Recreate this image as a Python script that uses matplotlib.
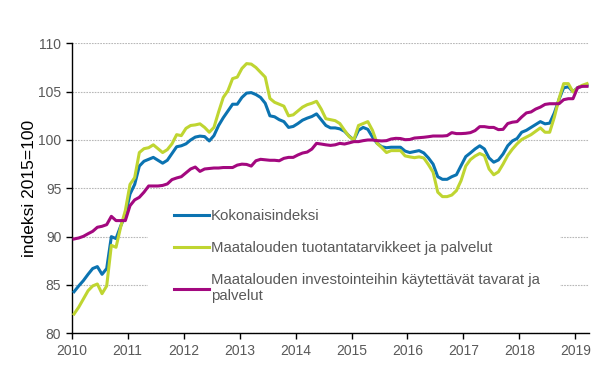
import matplotlib.pyplot as plt
import numpy as np
from matplotlib.patches import Rectangle

# monthly index values, Jan 2010 - Mar 2019 (2015=100)
kokonais = [
    84.3, 84.9, 85.45, 86.1, 86.7, 86.9, 86.1, 86.7, 90.0, 89.8, 91.1, 92.2,
    94.4, 95.4, 97.3, 97.8, 98.0, 98.2, 97.9, 97.6, 97.9, 98.6, 99.3, 99.4,
    99.6, 100.0, 100.3, 100.4, 100.35, 99.9, 100.45, 101.5, 102.3, 103.0, 103.7, 103.7,
    104.4, 104.85, 104.9, 104.7, 104.4, 103.8, 102.5, 102.4, 102.1, 101.9, 101.3, 101.4,
    101.7, 102.05, 102.26, 102.43, 102.7, 102.1, 101.5, 101.25, 101.25, 101.15, 100.9, 100.4,
    100.0, 101.0, 101.3, 101.1, 100.3, 99.65, 99.3, 99.2, 99.25, 99.25, 99.25, 98.85,
    98.7, 98.8, 98.9, 98.66, 98.14, 97.5, 96.2, 95.93, 95.93, 96.2, 96.4, 97.35,
    98.28, 98.66, 99.07, 99.4, 99.07, 98.14, 97.7, 97.93, 98.55, 99.4, 99.9, 100.15,
    100.8, 101.0, 101.3, 101.6, 101.9, 101.67, 101.74, 102.8, 104.2, 105.4, 105.5, 105.0,
    105.4, 105.6, 105.66,
]
tuotanto = [
    82.0, 82.7, 83.55, 84.4, 84.9, 85.1, 84.1, 84.9, 89.1, 88.9, 91.0, 92.7,
    95.4, 96.1, 98.7, 99.1, 99.2, 99.5, 99.1, 98.7, 99.0, 99.6, 100.55, 100.45,
    101.2, 101.5, 101.56, 101.67, 101.3, 100.8, 101.3, 102.9, 104.4, 105.1, 106.35, 106.5,
    107.4, 107.9, 107.85, 107.5, 107.0, 106.5, 104.3, 103.9, 103.7, 103.5, 102.5, 102.6,
    103.0, 103.4, 103.65, 103.8, 104.0, 103.2, 102.2, 102.1, 102.0, 101.7, 101.0, 100.35,
    100.0, 101.5, 101.7, 101.9, 101.0, 99.65, 99.2, 98.7, 98.9, 98.9, 98.9, 98.35,
    98.25, 98.17, 98.25, 98.14, 97.45, 96.66, 94.6, 94.14, 94.14, 94.3, 94.76, 95.8,
    97.3, 97.97, 98.34, 98.6, 98.38, 97.0, 96.4, 96.7, 97.5, 98.4, 99.05, 99.6,
    100.05, 100.3, 100.55, 100.9, 101.25, 100.8, 100.8, 102.36, 104.27, 105.83, 105.83, 104.97,
    105.4, 105.66, 105.83,
]
investointi = [
    89.76, 89.86, 90.03, 90.3, 90.55, 90.97, 91.07, 91.24, 92.1, 91.66, 91.66, 91.66,
    93.2, 93.8, 94.07, 94.6, 95.24, 95.24, 95.24, 95.3, 95.45, 95.9, 96.07, 96.2,
    96.6, 97.0, 97.2, 96.75, 97.0, 97.05, 97.1, 97.1, 97.15, 97.15, 97.15, 97.4,
    97.5, 97.47, 97.3, 97.85, 98.0, 97.95, 97.9, 97.9, 97.85, 98.1, 98.2, 98.2,
    98.45, 98.65, 98.75, 99.06, 99.65, 99.58, 99.5, 99.44, 99.5, 99.65, 99.58, 99.7,
    99.83, 99.83, 99.93, 100.0, 100.0, 99.93, 99.9, 99.93, 100.1, 100.17, 100.15, 100.03,
    100.05, 100.2, 100.24, 100.28, 100.34, 100.41, 100.41, 100.41, 100.45, 100.76, 100.66, 100.66,
    100.69, 100.76, 100.97, 101.38, 101.38, 101.3, 101.3, 101.07, 101.1, 101.7, 101.84, 101.9,
    102.38, 102.8, 102.9, 103.2, 103.4, 103.68, 103.75, 103.75, 103.75, 104.17, 104.27, 104.27,
    105.42, 105.55, 105.55,
]
labels = [
    'Kokonaisindeksi',
    'Maatalouden tuotantatarvikkeet ja palvelut',
    'Maatalouden investointeihin käytettävät tavarat ja\npalvelut',
]
colors = ['#0b73b1', '#bfd531', '#a3087f']
years = list(range(2010, 2020))

plt.rcParams['font.family'] = ['Liberation Sans', 'DejaVu Sans']

n = len(kokonais)
x = 2010 + (np.arange(n) + 0.5) / 12

fig = plt.figure(figsize=(6.14, 3.81), dpi=100)
ax = fig.add_axes([0.1168, 0.1252, 0.843, 0.7611])

for vals, lab, col in zip([kokonais, tuotanto, investointi], labels, colors):
    ax.plot(x, vals, color=col, lw=2.2, label=lab, solid_joinstyle='round', zorder=3)

ax.set_xlim(2010, 2010 + n / 12)
ax.set_ylim(80, 110)
ax.set_yticks(range(80, 111, 5))
ax.set_xticks(years)
ax.set_xticklabels([str(y) for y in years])

ax.set_axisbelow(True)
ax.yaxis.grid(True, color='#b8b8b8', lw=0.8, linestyle=(0, (1.5, 1)))
for s in ['top', 'right']:
    ax.spines[s].set_visible(False)
for s in ['left', 'bottom']:
    ax.spines[s].set_color('black')
    ax.spines[s].set_linewidth(1.0)
ax.tick_params(direction='out', length=4, width=1, color='black',
               labelcolor='#595959', labelsize=10)
ax.set_ylabel('indeksi 2015=100', fontsize=12.5, color='black', labelpad=1)

# white area behind the legend hides the grid there
ax.add_patch(Rectangle((0.148, 0.03), 0.795, 0.42, transform=ax.transAxes,
                       facecolor='white', edgecolor='none', zorder=1))

leg = ax.legend(loc='upper left', bbox_to_anchor=(0.198, 0.428), frameon=False,
                fontsize=10.8, handlelength=2.33, handletextpad=0.12,
                labelspacing=1.2, borderpad=0, borderaxespad=0)
for t in leg.get_texts():
    t.set_color('#595959')

plt.savefig('out.png', dpi=100)
